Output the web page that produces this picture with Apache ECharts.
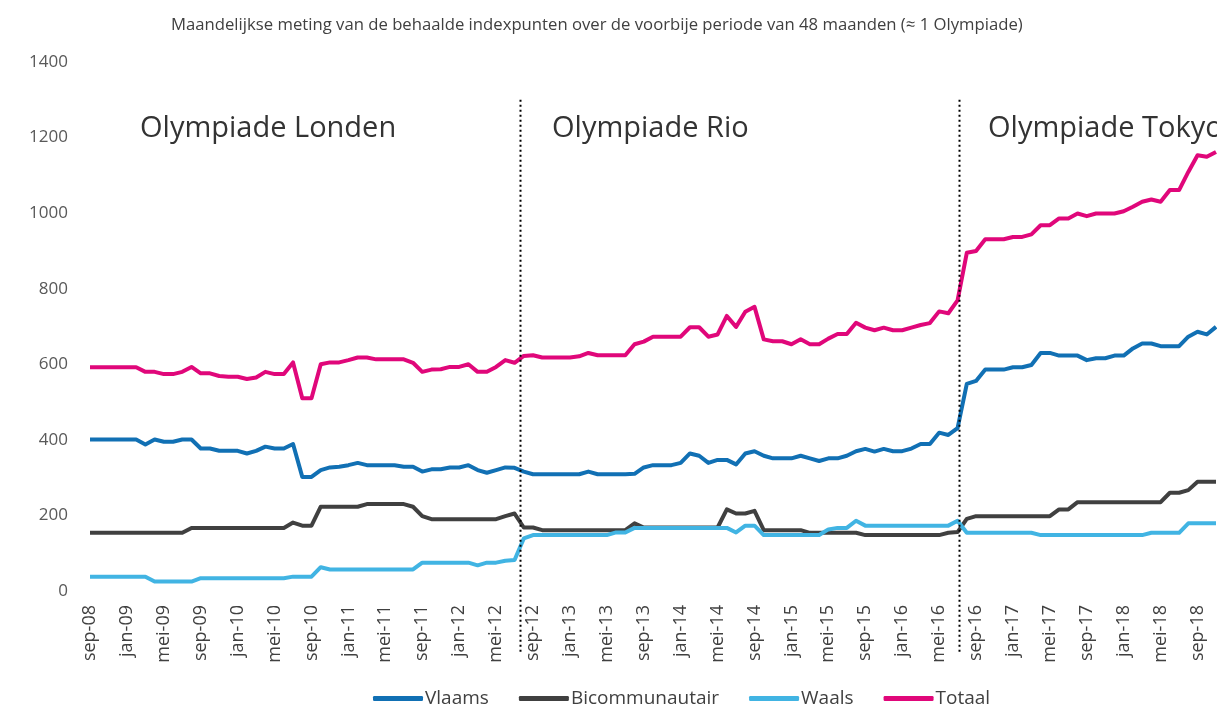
<!DOCTYPE html>
<html>
<head>
<meta charset="utf-8">
<script src="https://cdn.jsdelivr.net/npm/echarts@6/dist/echarts.min.js"></script>
<style>
  html, body { margin: 0; padding: 0; background: #ffffff; }
  #chart { width: 1217px; height: 707px; }
</style>
</head>
<body>
<div id="chart"></div>
<script>
// Month labels, monthly from sep-08 to nov-18
const MONTH_NAMES = ['jan', 'feb', 'mrt', 'apr', 'mei', 'jun', 'jul', 'aug', 'sep', 'okt', 'nov', 'dec'];
const START_YEAR = 2008, START_MONTH = 8, MONTH_COUNT = 123;
const months = [];
for (let k = 0; k < MONTH_COUNT; k++) {
  const m = (START_MONTH + k) % 12;
  const y = START_YEAR + Math.floor((START_MONTH + k) / 12);
  months.push(MONTH_NAMES[m] + '-' + String(y % 100).padStart(2, '0'));
}

// Index points per month
const vlaams = [
  401,401,401,401,401,401,388,401,395,395,401,401,
  377,377,371,371,371,364,371,382,377,377,389,302,
  302,320,327,329,333,339,333,333,333,333,329,329,
  316,322,322,327,327,333,320,313,320,327,326,316,
  309,309,309,309,309,309,316,309,309,309,309,310,
  327,333,333,333,339,364,358,339,347,347,335,364,
  370,358,351,351,351,358,351,344,351,351,358,370,
  376,369,376,370,370,377,389,389,419,413,431,548,
  556,586,586,586,592,592,598,630,630,623,623,623,
  611,616,616,623,623,642,655,655,648,648,648,673,
  686,679,699
];
const bicommunautair = [
  154,154,154,154,154,154,154,154,154,154,154,167,
  167,167,167,167,167,167,167,167,167,167,181,173,
  173,223,223,223,223,223,230,230,230,230,230,223,
  198,190,190,190,190,190,190,190,190,198,205,168,
  168,161,161,161,161,161,161,161,161,161,161,179,
  168,168,168,168,168,168,168,168,168,216,205,205,
  212,161,161,161,161,161,154,154,154,154,154,154,
  148,148,148,148,148,148,148,148,148,154,156,191,
  198,198,198,198,198,198,198,198,198,216,216,235,
  235,235,235,235,235,235,235,235,235,260,260,267,
  289,289,289
];
const waals = [
  38,38,38,38,38,38,38,25,25,25,25,25,
  34,34,34,34,34,34,34,34,34,34,38,38,
  38,63,57,57,57,57,57,57,57,57,57,57,
  75,75,75,75,75,75,68,75,75,80,82,139,
  148,148,148,148,148,148,148,148,148,155,155,167,
  167,167,167,167,167,167,167,167,167,167,155,173,
  173,148,148,148,148,148,148,148,163,167,167,186,
  173,173,173,173,173,173,173,173,173,173,186,154,
  154,154,154,154,154,154,154,148,148,148,148,148,
  148,148,148,148,148,148,148,154,154,154,154,179,
  179,179,179
];
const totaal = [
  592,592,592,592,592,592,580,580,574,574,580,593,
  576,576,569,567,567,561,565,580,574,574,605,510,
  510,600,605,605,611,618,618,613,613,613,613,604,
  580,586,587,593,593,600,580,580,593,611,604,622,
  624,618,618,618,618,621,630,624,624,624,624,653,
  660,673,673,673,673,698,698,673,679,728,699,739,
  752,666,661,661,653,666,653,653,668,680,680,710,
  697,690,697,690,690,697,704,709,740,735,769,895,
  900,931,931,931,937,937,944,968,968,986,986,999,
  992,999,999,999,1005,1017,1030,1036,1030,1061,1061,1109,
  1153,1149,1162
];

// Olympiad boundaries (position on the month axis) and period names
const olympiadSplits = [46.6, 94.15];
const olympiadNames = ['Olympiade Londen', 'Olympiade Rio', 'Olympiade Tokyo'];

const yTicks = [0, 200, 400, 600, 800, 1000, 1200, 1400];

const FONT = '"Open Sans", "Noto Sans", sans-serif';
const LINE_W = 4;

function makeSeries(name, values, color) {
  return {
    name: name,
    type: 'line',
    data: values.map((v, i) => [i, v]),
    showSymbol: false,
    symbol: 'none',
    lineStyle: { width: LINE_W, color: color, join: 'round' },
    itemStyle: { color: color },
    emphasis: { disabled: true }
  };
}

const chart = echarts.init(document.getElementById('chart'), null, { renderer: 'canvas' });

const option = {
  animation: false,
  backgroundColor: '#ffffff',
  title: {
    text: 'Maandelijkse meting van de behaalde indexpunten over de voorbije periode van 48 maanden (≈ 1 Olympiade)',
    left: 166,
    top: 12,
    textStyle: { fontFamily: FONT, fontSize: 16.7, fontWeight: 'normal', color: '#404040' }
  },
  legend: {
    left: 368,
    top: 684,
    icon: 'roundRect',
    itemWidth: 50,
    itemHeight: 5,
    itemGap: 30,
    textStyle: { fontFamily: FONT, fontSize: 19, color: '#404040', padding: [0, 0, 0, -3] },
    data: ['Vlaams', 'Bicommunautair', 'Waals', 'Totaal']
  },
  grid: { left: 90, right: 1, top: 62, bottom: 116, containLabel: false },
  xAxis: {
    type: 'value',
    min: 0,
    max: MONTH_COUNT - 1,
    interval: 4,
    axisLine: { show: false },
    axisTick: { show: false },
    splitLine: { show: false },
    axisLabel: {
      rotate: 90,
      margin: 14,
      fontFamily: FONT,
      fontSize: 18,
      color: '#404040',
      showMaxLabel: false,
      formatter: v => (v % 4 === 0 ? months[v] : '')
    }
  },
  yAxis: {
    type: 'value',
    min: yTicks[0],
    max: yTicks[yTicks.length - 1],
    interval: yTicks[1] - yTicks[0],
    axisLine: { show: false },
    axisTick: { show: false },
    splitLine: { show: false },
    axisLabel: {
      margin: 22,
      fontFamily: FONT,
      fontSize: 17,
      color: '#595959',
      formatter: v => String(v)
    }
  },
  series: [
    makeSeries('Vlaams', vlaams, '#1170b4'),
    makeSeries('Bicommunautair', bicommunautair, '#404040'),
    makeSeries('Waals', waals, '#41b4e3'),
    makeSeries('Totaal', totaal, '#e0077a')
  ]
};

chart.setOption(option);

// Dotted separators between the olympiads, placed through the axis scales
const yTop = chart.convertToPixel({ yAxisIndex: 0 }, 1300);
const yBase = chart.convertToPixel({ yAxisIndex: 0 }, 0);
const graphics = olympiadSplits.map(v => {
  const x = Math.round(chart.convertToPixel({ xAxisIndex: 0 }, v)) + 0.5;
  return {
    type: 'line',
    z: 100,
    shape: { x1: x, y1: yTop, x2: x, y2: yBase + 61 },
    style: { stroke: '#000000', lineWidth: 2, lineDash: [2, 3] }
  };
});

// Period titles
const titleLeft = [140, 552, 988];
olympiadNames.forEach((name, k) => {
  graphics.push({
    type: 'text',
    z: 100,
    x: titleLeft[k],
    y: 129,
    style: {
      text: name,
      fontFamily: FONT,
      fontSize: 29,
      fill: '#333333',
      verticalAlign: 'middle',
      align: 'left'
    }
  });
});

chart.setOption({ graphic: graphics });
</script>
</body>
</html>
